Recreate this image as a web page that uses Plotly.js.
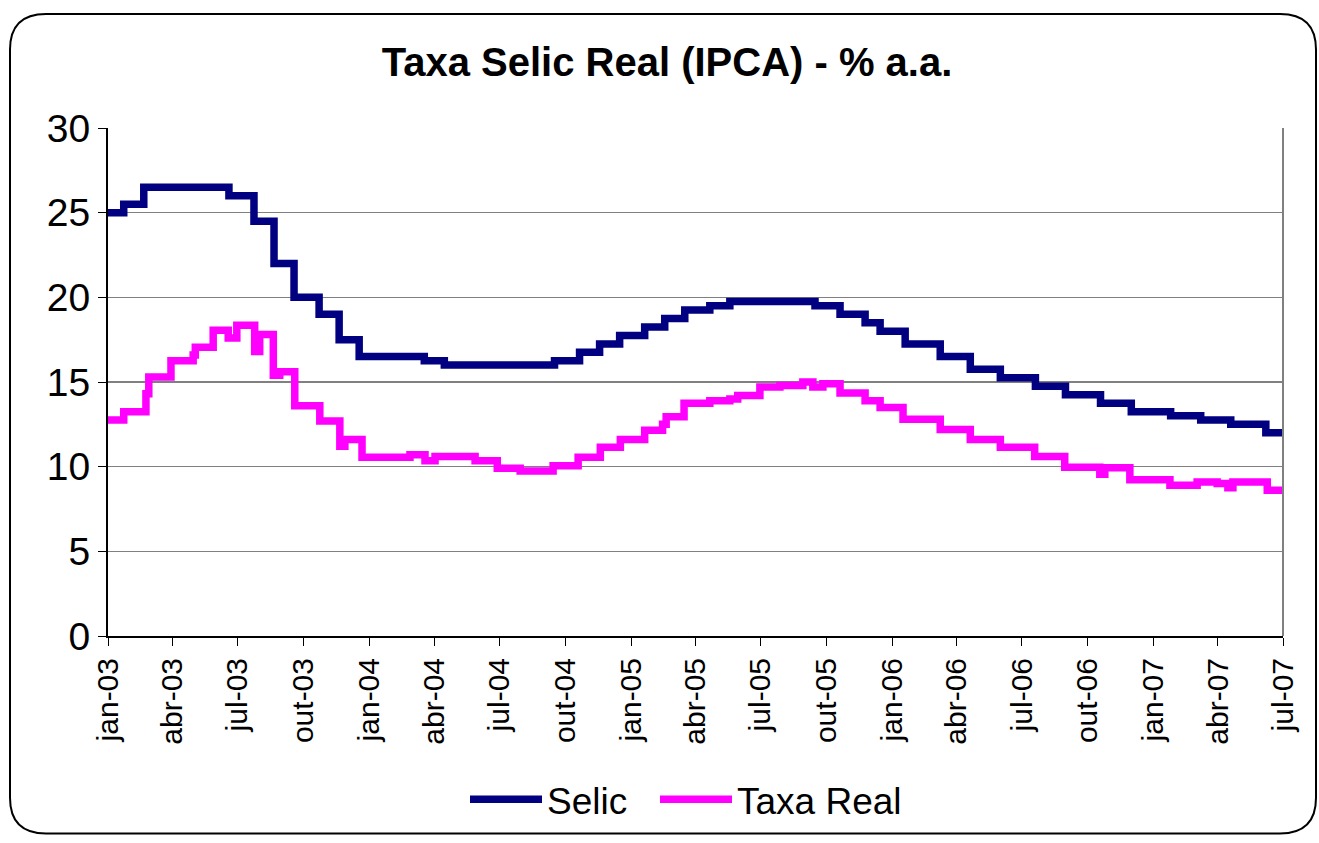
<!DOCTYPE html>
<html>
<head>
<meta charset="utf-8">
<script src="https://cdn.plot.ly/plotly-3.0.1.min.js"></script>
<style>
  html, body { margin: 0; padding: 0; background: #ffffff; }
  #chart { width: 1319px; height: 843px; }
</style>
</head>
<body>
<div id="chart"></div>
<script>
// ---- Data ----
const selicDates = [
  "2003-01-01","2003-01-23","2003-02-20","2003-06-19","2003-07-24","2003-08-21",
  "2003-09-18","2003-10-23","2003-11-20","2003-12-18","2004-03-18","2004-04-15",
  "2004-09-16","2004-10-21","2004-11-18","2004-12-16","2005-01-20","2005-02-17",
  "2005-03-17","2005-04-21","2005-05-19","2005-09-15","2005-10-20","2005-11-24",
  "2005-12-15","2006-01-19","2006-03-09","2006-04-20","2006-06-01","2006-07-20",
  "2006-08-31","2006-10-19","2006-12-01","2007-01-25","2007-03-08","2007-04-19",
  "2007-06-07","2007-07-01"
];
const selicValues = [
  25.0, 25.5, 26.5, 26.0, 24.5, 22.0,
  20.0, 19.0, 17.5, 16.5, 16.25, 16.0,
  16.25, 16.75, 17.25, 17.75, 18.25, 18.75,
  19.25, 19.5, 19.75, 19.5, 19.0, 18.5,
  18.0, 17.25, 16.5, 15.75, 15.25, 14.75,
  14.25, 13.75, 13.25, 13.0, 12.75, 12.5,
  12.0, 12.0
];

const realDates = [
  "2003-01-01","2003-01-23","2003-02-23","2003-02-27","2003-03-30","2003-04-30",
  "2003-05-03","2003-05-28","2003-06-18","2003-06-30","2003-07-25","2003-08-01",
  "2003-08-20","2003-08-29","2003-09-19","2003-10-24","2003-11-21","2003-11-28",
  "2003-12-22","2004-02-27","2004-03-19","2004-04-02","2004-05-28","2004-06-28",
  "2004-07-30","2004-09-14","2004-10-19","2004-11-19","2004-12-17","2005-01-20",
  "2005-02-14","2005-02-19","2005-03-16","2005-04-21","2005-05-19","2005-05-30",
  "2005-06-30","2005-07-28","2005-08-29","2005-09-12","2005-09-26","2005-10-20",
  "2005-11-24","2005-12-15","2006-01-16","2006-03-09","2006-04-20","2006-06-01",
  "2006-07-19","2006-08-30","2006-10-18","2006-10-25","2006-11-29","2007-01-24",
  "2007-03-03","2007-03-31","2007-04-15","2007-04-22","2007-06-09","2007-07-01"
];
const realValues = [
  12.75, 13.25, 14.3, 15.3, 16.25, 16.6,
  17.05, 18.05, 17.6, 18.35, 16.8, 17.8,
  15.4, 15.6, 13.6, 12.7, 11.2, 11.6,
  10.55, 10.7, 10.35, 10.6, 10.35, 9.9,
  9.75, 10.05, 10.55, 11.15, 11.6, 12.15,
  12.5, 12.95, 13.75, 13.9, 14.0, 14.2,
  14.7, 14.8, 15.0, 14.7, 14.9, 14.35,
  13.9, 13.5, 12.8, 12.2, 11.6, 11.15,
  10.6, 9.97, 9.55, 9.93, 9.22, 8.9,
  9.1, 9.0, 8.75, 9.1, 8.6, 8.6
];

const tickDates = [
  "2003-01-01","2003-04-01","2003-07-01","2003-10-01",
  "2004-01-01","2004-04-01","2004-07-01","2004-10-01",
  "2005-01-01","2005-04-01","2005-07-01","2005-10-01",
  "2006-01-01","2006-04-01","2006-07-01","2006-10-01",
  "2007-01-01","2007-04-01","2007-07-01"
];
const tickLabels = [
  "jan-03","abr-03","jul-03","out-03",
  "jan-04","abr-04","jul-04","out-04",
  "jan-05","abr-05","jul-05","out-05",
  "jan-06","abr-06","jul-06","out-06",
  "jan-07","abr-07","jul-07"
];
const yTicks = [0, 5, 10, 15, 20, 25, 30];

// ---- Layout geometry (pixels) ----
const W = 1319, H = 843;
const M = { l: 108, r: 36, t: 128, b: 203 };
const PW = W - M.l - M.r, PH = H - M.t - M.b;
const px = x => (x - M.l) / PW;
const py = y => (H - M.b - y) / PH;

function roundRectPath(x0, y0, x1, y1, r) {
  const p = [];
  p.push('M', px(x0 + r), py(y0));
  p.push('L', px(x1 - r), py(y0));
  p.push('Q', px(x1), py(y0), px(x1), py(y0 + r));
  p.push('L', px(x1), py(y1 - r));
  p.push('Q', px(x1), py(y1), px(x1 - r), py(y1));
  p.push('L', px(x0 + r), py(y1));
  p.push('Q', px(x0), py(y1), px(x0), py(y1 - r));
  p.push('L', px(x0), py(y0 + r));
  p.push('Q', px(x0), py(y0), px(x0 + r), py(y0));
  p.push('Z');
  return p.join(' ');
}

const FONT = '"Liberation Sans", Arial, sans-serif';

const traces = [
  {
    x: selicDates, y: selicValues, name: 'Selic', type: 'scatter', mode: 'lines',
    line: { color: '#000080', width: 7.5, shape: 'hv' }, legend: 'legend'
  },
  {
    x: realDates, y: realValues, name: 'Taxa Real', type: 'scatter', mode: 'lines',
    line: { color: '#FF00FF', width: 7.5, shape: 'hv' }, legend: 'legend2'
  }
];

const legendBase = {
  orientation: 'h',
  yanchor: 'middle', y: py(805),
  xanchor: 'left',
  font: { family: FONT, size: 37, color: '#000000' },
  itemwidth: 72,
  bgcolor: 'rgba(0,0,0,0)'
};

const layout = {
  width: W, height: H,
  margin: M,
  paper_bgcolor: '#ffffff',
  plot_bgcolor: '#ffffff',
  font: { family: FONT, color: '#000000' },
  title: {
    text: '<b>Taxa Selic Real (IPCA) - % a.a.</b>',
    font: { family: FONT, size: 40, color: '#000000' },
    x: 667 / W, xanchor: 'center',
    y: 1 - 62 / H, yanchor: 'middle'
  },
  xaxis: {
    type: 'date',
    range: ['2003-01-01', '2007-07-01'],
    tickmode: 'array', tickvals: tickDates, ticktext: tickLabels,
    tickangle: -90,
    tickfont: { family: FONT, size: 30, color: '#000000' },
    ticks: 'outside', ticklen: 8, tickwidth: 1, tickcolor: '#000000',
    showline: true, linecolor: '#000000', linewidth: 2,
    showgrid: false, zeroline: false
  },
  yaxis: {
    range: [0, 30],
    tickmode: 'array', tickvals: yTicks,
    tickfont: { family: FONT, size: 39, color: '#000000' },
    ticks: 'outside', ticklen: 8, tickwidth: 1, tickcolor: '#000000',
    showline: true, linecolor: '#000000', linewidth: 2,
    showgrid: true, gridcolor: '#808080', gridwidth: 1.5,
    zeroline: false
  },
  showlegend: true,
  legend: Object.assign({}, legendBase, { x: px(465) }),
  legend2: Object.assign({}, legendBase, { x: px(655) }),
  shapes: [
    { type: 'line', xref: 'paper', yref: 'paper', x0: 1, x1: 1, y0: 0, y1: 1,
      line: { color: '#808080', width: 2 } },
    { type: 'path', xref: 'paper', yref: 'paper', path: roundRectPath(10, 13, 1316, 839, 36),
      line: { color: '#000000', width: 2 } }
  ]
};

Plotly.newPlot('chart', traces, layout, { displayModeBar: false, staticPlot: true });
</script>
</body>
</html>
